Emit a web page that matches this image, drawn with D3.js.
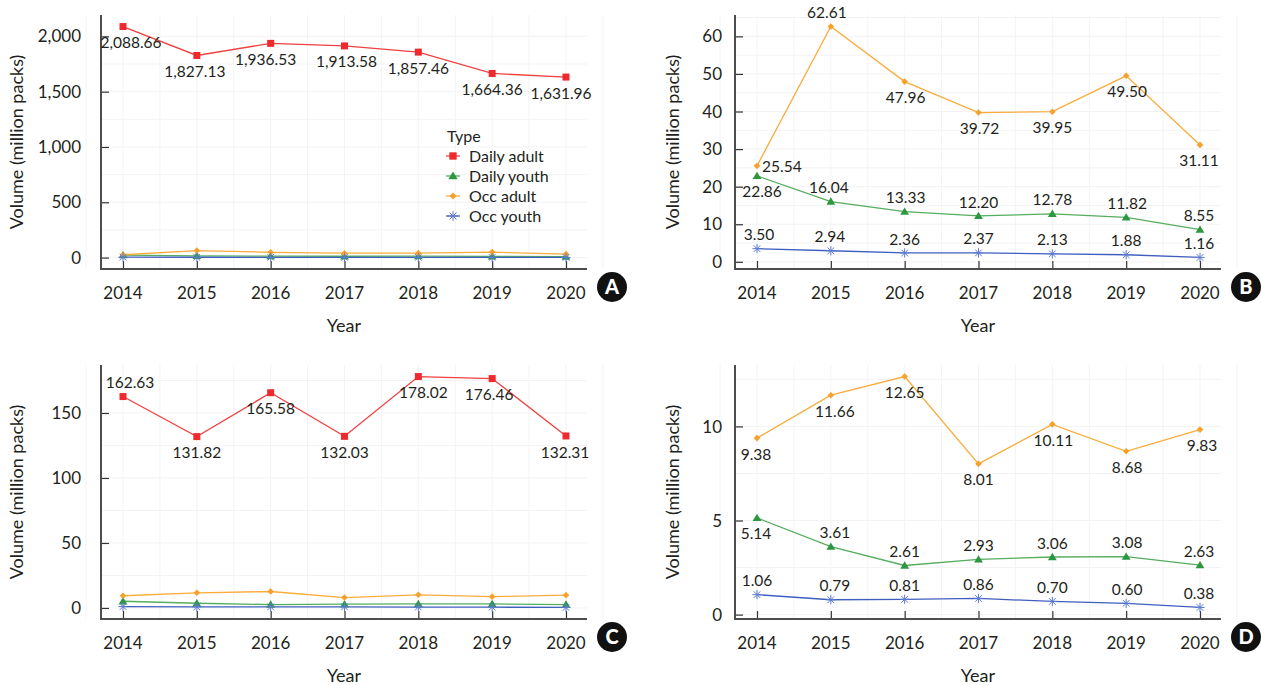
<!DOCTYPE html>
<html>
<head>
<meta charset="utf-8">
<script src="https://cdn.jsdelivr.net/npm/d3@7/dist/d3.min.js"></script>
<style>
  body { margin: 0; background: #fff; }
  svg { display: block; }
  text { font-family: Lato, "Noto Sans", sans-serif; fill: #231f20; }
</style>
</head>
<body>
<svg id="chart" width="1261" height="685"></svg>
<script>
// Years on the x axis
const years = [2014, 2015, 2016, 2017, 2018, 2019, 2020];

// Overall cigarette volume (million packs)
const allDailyAdult = [2088.66, 1827.13, 1936.53, 1913.58, 1857.46, 1664.36, 1631.96];
const allDailyYouth = [22.86, 16.04, 13.33, 12.20, 12.78, 11.82, 8.55];
const allOccAdult   = [25.54, 62.61, 47.96, 39.72, 39.95, 49.50, 31.11];
const allOccYouth   = [3.50, 2.94, 2.36, 2.37, 2.13, 1.88, 1.16];

// Subgroup volume (million packs)
const subDailyAdult = [162.63, 131.82, 165.58, 132.03, 178.02, 176.46, 132.31];
const subDailyYouth = [5.14, 3.61, 2.61, 2.93, 3.06, 3.08, 2.63];
const subOccAdult   = [9.38, 11.66, 12.65, 8.01, 10.11, 8.68, 9.83];
const subOccYouth   = [1.06, 0.79, 0.81, 0.86, 0.70, 0.60, 0.38];

// Tick labels per panel
const yTicksA = [0, 500, 1000, 1500, 2000];
const yTicksB = [0, 10, 20, 30, 40, 50, 60];
const yTicksC = [0, 50, 100, 150];
const yTicksD = [0, 5, 10];

const typeNames = ["Daily adult", "Daily youth", "Occ adult", "Occ youth"];

// Visual style per type
const styles = {
  "Daily adult": { line: "#f0403f", fill: "#ee2a2e", marker: "square" },
  "Daily youth": { line: "#55ad5e", fill: "#2b9840", marker: "triangle" },
  "Occ adult":   { line: "#f9ac3c", fill: "#f7a12c", marker: "diamond" },
  "Occ youth":   { line: "#3f5fbf", fill: "#5d7bd2", marker: "asterisk" }
};

const svg = d3.select("#chart");
const fmt = d3.format(",.2f");

// Panel layout and which series get value labels; place: a = above, b = below, r = right
const panels = [
  { tag: "A", left: 101, right: 587, top: 15, bottom: 269, titleX: 17, gap: 20, yTicks: yTicksA,
    series: [["Daily adult", allDailyAdult], ["Daily youth", allDailyYouth], ["Occ adult", allOccAdult], ["Occ youth", allOccYouth]],
    labels: { "Daily adult": { place: "bbbbbbb", dx: [8, -2, -5, 2, 0, 0, -5] } }, legend: true },
  { tag: "B", left: 735, right: 1221, top: 15, bottom: 269, titleX: 673, gap: 13, yTicks: yTicksB,
    series: [["Daily youth", allDailyYouth], ["Occ adult", allOccAdult], ["Occ youth", allOccYouth]],
    labels: {
      "Occ adult":   { place: "rabbbbb", dx: [0, -4, 1, 1, 0, 1, -1] },
      "Daily youth": { place: "baaaaaa", dx: [5, -2, 1, 0, 0, 1, -1] },
      "Occ youth":   { place: "aaaaaaa", dx: [2, -1, 0, 0, 0, 0, -1] }
    } },
  { tag: "C", left: 101, right: 587, top: 365, bottom: 619, titleX: 17, gap: 20, yTicks: yTicksC,
    series: [["Daily adult", subDailyAdult], ["Daily youth", subDailyYouth], ["Occ adult", subOccAdult], ["Occ youth", subOccYouth]],
    labels: { "Daily adult": { place: "abbbbbb", dx: [7, 0, 0, 0, 5, -3, -1] } } },
  { tag: "D", left: 735, right: 1221, top: 365, bottom: 619, titleX: 673, gap: 13, yTicks: yTicksD,
    series: [["Daily youth", subDailyYouth], ["Occ adult", subOccAdult], ["Occ youth", subOccYouth]],
    labels: {
      "Occ adult":   { place: "bbbbbbb", dx: [-1, 4, 0, 0, 1, 1, 2] },
      "Daily youth": { place: "baaaaaa", dx: [-1, 4, 0, 0, 0, 1, -1] },
      "Occ youth":   { place: "aaaaaaa", dx: [0, 4, 0, 0, 0, 1, -1] }
    } }
];

function drawMarker(g, type, x, y, s) {
  const st = styles[type];
  if (st.marker === "square") {
    g.append("rect").attr("x", x - 3.5 * s).attr("y", y - 3.5 * s)
      .attr("width", 7 * s).attr("height", 7 * s).attr("fill", st.fill);
  } else if (st.marker === "triangle") {
    const h = 4.2 * s;
    g.append("path").attr("d", `M${x},${y - h}L${x + h * 1.05},${y + h * 0.75}L${x - h * 1.05},${y + h * 0.75}Z`)
      .attr("fill", st.fill);
  } else if (st.marker === "diamond") {
    const r = 3.3 * s;
    g.append("path").attr("d", `M${x},${y - r}L${x + r},${y}L${x},${y + r}L${x - r},${y}Z`)
      .attr("fill", st.fill);
  } else {
    const r = 4.6 * s, d = r * 0.72;
    g.append("path")
      .attr("d", `M${x - r},${y}H${x + r}M${x},${y - r}V${y + r}M${x - d},${y - d}L${x + d},${y + d}M${x - d},${y + d}L${x + d},${y - d}`)
      .attr("stroke", st.fill).attr("stroke-width", 1).attr("fill", "none");
  }
}

panels.forEach(p => {
  const g = svg.append("g");
  const all = p.series.flatMap(s => s[1]);
  const lo = d3.min(all), hi = d3.max(all), pad = (hi - lo) * 0.05;
  const y = d3.scaleLinear().domain([lo - pad, hi + pad]).range([p.bottom, p.top]);
  const x = d3.scaleLinear().domain([years[0], years[years.length - 1]]).range([p.left + 22, p.right - 21]);

  // faint background grid
  const grid = g.append("g").attr("stroke", "#f3f3f3").attr("stroke-width", 1);
  const xMinor = d3.range(years[0] - 0.5, years[years.length - 1] + 1, 0.5);
  xMinor.forEach(v => grid.append("line").attr("x1", x(v)).attr("x2", x(v)).attr("y1", p.top).attr("y2", p.bottom));
  const step = p.yTicks[1] - p.yTicks[0];
  d3.range(p.yTicks[0], y.domain()[1], step / 2).forEach(v =>
    grid.append("line").attr("x1", p.left).attr("x2", p.right).attr("y1", y(v)).attr("y2", y(v)));

  // axes: inward ticks, labels outside
  const yAxis = g.append("g").attr("transform", `translate(${p.left},0)`)
    .call(d3.axisRight(y).tickValues(p.yTicks).tickSize(8).tickFormat(""));
  yAxis.select(".domain").remove();
  yAxis.selectAll(".tick line").attr("stroke", "#333").attr("stroke-width", 1.2);
  p.yTicks.forEach(v => g.append("text").attr("x", p.left - p.gap).attr("y", y(v)).attr("dy", "0.36em")
    .attr("text-anchor", "end").attr("font-size", 17).text(d3.format(",")(v)));

  const xAxis = g.append("g").attr("transform", `translate(0,${p.bottom})`)
    .call(d3.axisTop(x).tickValues(years).tickSize(8).tickFormat(""));
  xAxis.select(".domain").remove();
  xAxis.selectAll(".tick line").attr("stroke", "#333").attr("stroke-width", 1.2);
  years.forEach(v => g.append("text").attr("x", x(v)).attr("y", p.bottom + 24).attr("dy", "0.36em")
    .attr("text-anchor", "middle").attr("font-size", 17).text(v));

  g.append("path").attr("d", `M${p.left},${p.top}V${p.bottom}H${p.right}`)
    .attr("fill", "none").attr("stroke", "#4d4d4d").attr("stroke-width", 2);

  // axis titles
  g.append("text").attr("x", (p.left + p.right) / 2).attr("y", p.bottom + 57).attr("dy", "0.36em")
    .attr("text-anchor", "middle").attr("font-size", 18).text("Year");
  g.append("text").attr("transform", `translate(${p.titleX},${(p.top + p.bottom) / 2}) rotate(-90)`)
    .attr("dy", "0.36em").attr("text-anchor", "middle").attr("font-size", 18).text("Volume (million packs)");

  // lines, then markers
  const line = d3.line().x((d, i) => x(years[i])).y(d => y(d));
  p.series.forEach(([name, vals]) => {
    g.append("path").attr("d", line(vals)).attr("fill", "none")
      .attr("stroke", styles[name].line).attr("stroke-width", 1.3);
  });
  p.series.forEach(([name, vals]) => {
    vals.forEach((v, i) => drawMarker(g, name, x(years[i]), y(v), 1));
  });

  // value labels
  Object.entries(p.labels).forEach(([name, cfg]) => {
    const vals = p.series.find(s => s[0] === name)[1];
    vals.forEach((v, i) => {
      const px = x(years[i]) + cfg.dx[i], py = y(v), pl = cfg.place[i];
      const t = g.append("text").attr("font-size", 15.5).attr("dy", "0.36em").text(fmt(v));
      if (pl === "r") t.attr("x", px + 5).attr("y", py + 1).attr("text-anchor", "start");
      else t.attr("x", px).attr("y", pl === "a" ? py - 14 : py + 16).attr("text-anchor", "middle");
    });
  });

  // panel badge
  const bx = p.right + 25, by = p.bottom + 18;
  g.append("circle").attr("cx", bx).attr("cy", by).attr("r", 15).attr("fill", "#111");
  g.append("text").attr("x", bx).attr("y", by).attr("dy", "0.36em").attr("text-anchor", "middle")
    .attr("font-size", 20).attr("font-weight", 900).style("fill", "#fff").text(p.tag);

  // legend
  if (p.legend) {
    const lg = g.append("g");
    lg.append("text").attr("x", 447).attr("y", 136).attr("dy", "0.36em").attr("font-size", 16).text("Type");
    typeNames.forEach((name, i) => {
      const ly = 156 + i * 20;
      lg.append("line").attr("x1", 446).attr("x2", 460).attr("y1", ly).attr("y2", ly)
        .attr("stroke", styles[name].line).attr("stroke-width", 1.3);
      drawMarker(lg, name, 453, ly, 1.05);
      lg.append("text").attr("x", 469).attr("y", ly).attr("dy", "0.36em").attr("font-size", 16).text(name);
    });
  }
});
</script>
</body>
</html>
